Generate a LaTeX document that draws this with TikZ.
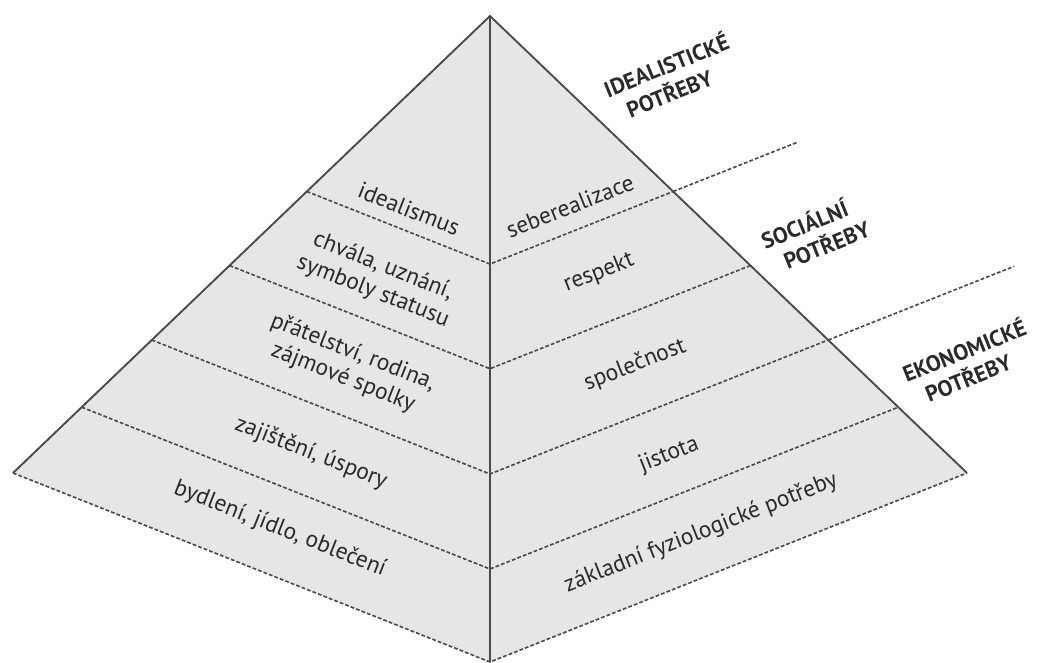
\documentclass[tikz,border=0pt]{standalone}
\usepackage{fontspec}
\setmainfont{PT Sans}
\usepackage{xcolor}
\usepackage{tikz}
\usetikzlibrary{calc}
\definecolor{pyrfill}{HTML}{E6E6E6}
\definecolor{pyrline}{HTML}{4A4A4A}
\definecolor{pyrtext}{HTML}{2A2A2A}

\begin{document}
\begin{tikzpicture}[x=0.015cm, y=-0.015cm,
    edge/.style={draw=pyrline, line width=0.8pt, line join=miter},
    band/.style={draw=pyrline, line width=0.7pt, dash pattern=on 1.6pt off 0.9pt},
    leftlbl/.style={font=\fontsize{10}{11.5}\selectfont, text=pyrtext, align=center, rotate=-21.5, inner sep=0pt},
    rightlbl/.style={font=\fontsize{10}{11.5}\selectfont, text=pyrtext, align=center, rotate=21.5, inner sep=0pt},
    grouplbl/.style={font=\fontsize{9.5}{11.5}\selectfont\bfseries, text=pyrtext, align=left, rotate=22, inner sep=0pt}]

    \useasboundingbox (0,0) rectangle (1038,663);

    % Corners of the pyramid
    \coordinate (apex) at (490,16);
    \coordinate (leftc) at (13,473);
    \coordinate (rightc) at (967,473);
    \coordinate (bottom) at (490,662);

    % Faces
    \fill[pyrfill] (apex) -- (rightc) -- (bottom) -- (leftc) -- cycle;

    % Levels along the edges
    \foreach \t [count=\i] in {0.384, 0.546, 0.709, 0.856} {
        \coordinate (l\i) at ($(apex)!\t!(leftc)$);
        \coordinate (m\i) at ($(apex)!\t!(bottom)$);
        \coordinate (r\i) at ($(apex)!\t!(rightc)$);
        \draw[band] (l\i) -- (m\i) -- (r\i);
    }

    % Lines that separate the groups
    \coordinate (ext1) at ($(m1)!1.68!(r1)$);
    \coordinate (ext3) at ($(m3)!1.55!(r3)$);
    \draw[band] (r1) -- (ext1);
    \draw[band] (r3) -- (ext3);

    % Outline
    \draw[band] (leftc) -- (bottom) -- (rightc);
    \draw[edge] (leftc) -- (apex) -- (rightc);
    \draw[edge] (apex) -- (bottom);

    % Left face
    \node[leftlbl] (idealism) at (409,209) {idealismus};
    \node[leftlbl] (praise) at (378,279) {chvála, uznání,\\symboly statusu};
    \node[leftlbl] (friends) at (348,365) {přátelství, rodina,\\zájmové spolky};
    \node[leftlbl] (savings) at (311,453) {zajištění, úspory};
    \node[leftlbl] (housing) at (280,529) {bydlení, jídlo, oblečení};

    % Right face
    \node[rightlbl] (selfreal) at (570,206) {seberealizace};
    \node[rightlbl] (respect) at (599,273) {respekt};
    \node[rightlbl] (society) at (635,365) {společnost};
    \node[rightlbl] (safety) at (669,455) {jistota};
    \node[rightlbl] (basic) at (701,533) {základní fyziologické potřeby};

    % Groups
    \node[grouplbl] (idealgrp) at (671,77) {IDEALISTICKÉ\\\hspace*{0.6em}POTŘEBY};
    \node[grouplbl] (socialgrp) at (815,234) {SOCIÁLNÍ\\\hspace*{0.6em}POTŘEBY};
    \node[grouplbl] (econgrp) at (969,362) {EKONOMICKÉ\\\hspace*{0.6em}POTŘEBY};

\end{tikzpicture}
\end{document}
